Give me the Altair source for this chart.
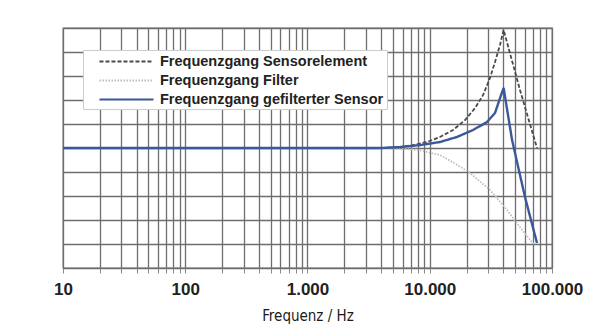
import altair as alt
import pandas as pd

# Series names (legend order)
series_names = ["Frequenzgang Sensorelement", "Frequenzgang Filter", "Frequenzgang gefilterter Sensor"]

# Frequencies (Hz) and response (dB)
sensor_f = [10, 1000, 4000, 5710, 7300, 9500, 12130, 15500, 19420, 23440, 27280, 31110, 34190, 37580, 40200, 54700, 75400]
sensor_v = [0, 0, 0, 0.2, 0.6, 1.25, 2.3, 3.75, 5.8, 8.3, 11.0, 14.6, 17.9, 21.5, 24.6, 12.1, 0]

filter_f = [10, 1000, 5000, 8000, 12130, 16000, 21340, 31110, 42850, 54700, 68600, 73000]
filter_v = [0, 0, 0, -0.4, -1.46, -3.2, -5.2, -8.75, -12.9, -16.5, -19.6, -20.2]

filtered_f = [10, 1000, 4000, 5710, 8320, 12130, 16700, 22600, 29400, 34190, 37580, 40200, 47100, 60100, 75400]
filtered_v = [0, 0, 0, 0.2, 0.6, 1.25, 2.3, 3.75, 5.4, 7.3, 10.4, 12.5, 1.7, -10.2, -19.8]

# Axis ticks
tick_values = [10, 100, 1000, 10000, 100000]
tick_labels = ["10", "100", "1.000", "10.000", "100.000"]
grid_x = [m * 10 ** e for e in range(1, 5) for m in range(1, 10)] + [100000]
grid_y = [-25, -20, -15, -10, -5, 0, 5, 10, 15, 20, 25]

rows = []
for name, fs, vs in [(series_names[0], sensor_f, sensor_v),
                     (series_names[1], filter_f, filter_v),
                     (series_names[2], filtered_f, filtered_v)]:
    for i, (f, v) in enumerate(zip(fs, vs)):
        rows.append({"series": name, "f": f, "v": v, "order": i})
df = pd.DataFrame(rows)

label_expr = " : ".join(f"datum.value == {v} ? '{l}'" for v, l in zip(tick_values, tick_labels)) + " : ''"

legend = alt.Legend(orient="none", legendX=20, legendY=22, title=None,
                    symbolType="M0.71,0H8.43", symbolSize=196, symbolStrokeWidth=2.2,
                    labelFont="Liberation Sans", labelFontSize=14.5,
                    labelFontWeight="bold", labelColor="#222222",
                    labelOffset=57, rowPadding=4, padding=3,
                    fillColor="white", strokeColor="#cccccc", labelLimit=400)

chart = alt.Chart(df).mark_line(clip=True).encode(
    x=alt.X("f:Q",
            scale=alt.Scale(type="log", domain=[10, 100000], nice=False),
            axis=alt.Axis(values=grid_x, labelExpr=label_expr, labelOverlap=False, labelFlush=False,
                          grid=True, gridColor="#6e6e6e", gridWidth=1.3,
                          ticks=True, tickSize=5, tickColor="#8a8a8a", domain=False,
                          labelFont="Liberation Sans", labelFontSize=17, labelFontWeight="bold",
                          labelColor="#222222", labelPadding=8,
                          title="Frequenz / Hz",
                          titleFont="'Liberation Sans Narrow', 'DejaVu Sans Condensed', sans-serif",
                          titleFontSize=15, titleFontWeight="normal", titleColor="#1a1a1a",
                          titlePadding=11)),
    y=alt.Y("v:Q",
            scale=alt.Scale(domain=[-25, 25], nice=False),
            axis=alt.Axis(values=grid_y, labels=False, ticks=False, domain=False, title=None,
                          grid=True, gridColor="#6e6e6e", gridWidth=1.3)),
    color=alt.Color("series:N",
                    scale=alt.Scale(domain=series_names, range=["#4a4a4a", "#bdbdbd", "#3b5998"]),
                    legend=legend),
    strokeDash=alt.StrokeDash("series:N",
                              scale=alt.Scale(domain=series_names, range=[[4, 2], [1.5, 1.5], [1, 0]]),
                              legend=legend),
    strokeWidth=alt.condition(alt.datum.series == series_names[2], alt.value(2.4), alt.value(1.8)),
    order="order:Q",
).properties(
    width=489, height=240,
    autosize=alt.AutoSizeParams(type="none"),
    padding={"left": 55, "top": 20, "right": 40, "bottom": 59},
    background="white",
).configure_view(stroke="#6e6e6e", strokeWidth=1.3)

chart.save("out.html", embed_options={"renderer": "svg", "actions": False})
